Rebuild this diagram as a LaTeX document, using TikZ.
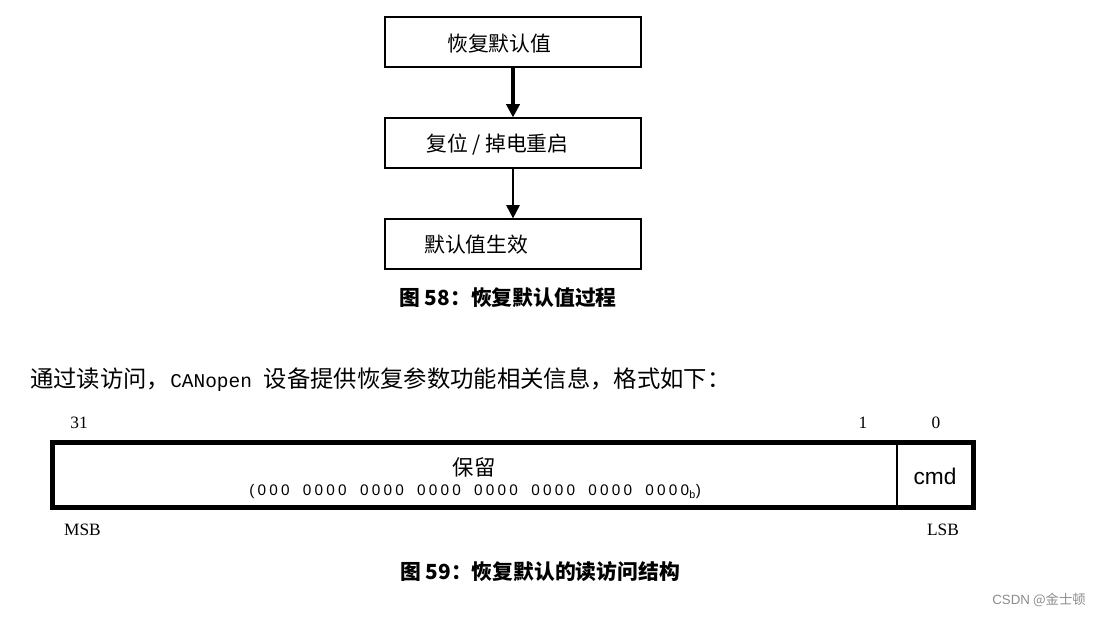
\documentclass[tikz,border=0pt]{standalone}
\usepackage{fontspec}
\setmainfont{Liberation Serif}
\newfontfamily\cjk{Noto Sans CJK SC}
\newfontfamily\sans{Liberation Sans}
\newfontfamily\bitsfont[LetterSpace=21]{Liberation Sans}
\newfontfamily\mono{Liberation Mono}
\usetikzlibrary{arrows.meta}
\newcommand\grp{0000\hspace{10pt}}
\begin{document}
\begin{tikzpicture}[x=0.75pt,y=-0.75pt,
  flowbox/.style={draw,line width=0.9pt,minimum width=256*0.75pt,minimum height=50*0.75pt,inner sep=0pt},
  flowtxt/.style={font=\cjk\fontsize{15.6}{17}\selectfont,anchor=west,inner sep=0pt},
  captxt/.style={font=\cjk\bfseries\fontsize{15.6}{17}\selectfont,inner sep=0pt},
  arr/.style={-{Triangle[length=10pt,width=10pt]}},
  lbl/.style={font=\fontsize{13}{15}\selectfont,inner sep=0pt}]
\useasboundingbox (0,0) rectangle (1104,617);
% flowchart
\node[flowbox] (b1) at (513,42) {};
\node[flowbox] (b2) at (513,143) {};
\node[flowbox] (b3) at (513,244) {};
\node[flowtxt] (t1) at (447,44) {恢复默认值};
\node[flowtxt] (t2) at (426,145) {复位 / 掉电重启};
\node[flowtxt] (t3) at (424,245) {默认值生效};
\draw[arr,line width=2.4pt] (b1.south) -- (b2.north);
\draw[arr,line width=1.5pt] (b2.south) -- (b3.north);
\node[captxt] (c1) at (508,298) {图 58：恢复默认值过程};
% paragraph
\node[anchor=west,inner sep=0pt,font=\cjk\fontsize{17.5}{19}\selectfont] (p) at (30,380) {通过读访问，{\mono\fontsize{14.6}{16}\selectfont CANopen}\hspace{0.5em}设备提供恢复参数功能相关信息，格式如下：};
% register
\node[lbl] (n31) at (79,423) {31};
\node[lbl] (n1) at (863,423) {1};
\node[lbl] (n0) at (936,423) {0};
\draw[line width=3.75pt] (52.5,442.5) rectangle (973.5,507.5);
\coordinate (dt) at (897,442.5);
\coordinate (db) at (897,507.5);
\draw[line width=1.5pt] (dt) -- (db);
\node[inner sep=0pt,font=\cjk\fontsize{16}{18}\selectfont] (res) at (474,467) {保留};
\node[inner sep=0pt,anchor=west,font=\bitsfont\fontsize{11.5}{13}\selectfont] (bits) at (249,492) {(000\hspace{10pt}\grp\grp\grp\grp\grp\grp 0000\textsubscript{b})};
\node[inner sep=0pt,font=\sans\fontsize{17}{19}\selectfont] (cmd) at (935,476) {cmd};
\node[lbl] (msb) at (82.5,530) {MSB};
\node[lbl] (lsb) at (943,530) {LSB};
\node[captxt] (c2) at (540,572) {图 59：恢复默认的读访问结构};
\node[inner sep=0pt,text=black!45,font=\cjk\fontsize{10}{12}\selectfont] (wm) at (1039,600) {{\sans CSDN} @金士顿};
\end{tikzpicture}
\end{document}
